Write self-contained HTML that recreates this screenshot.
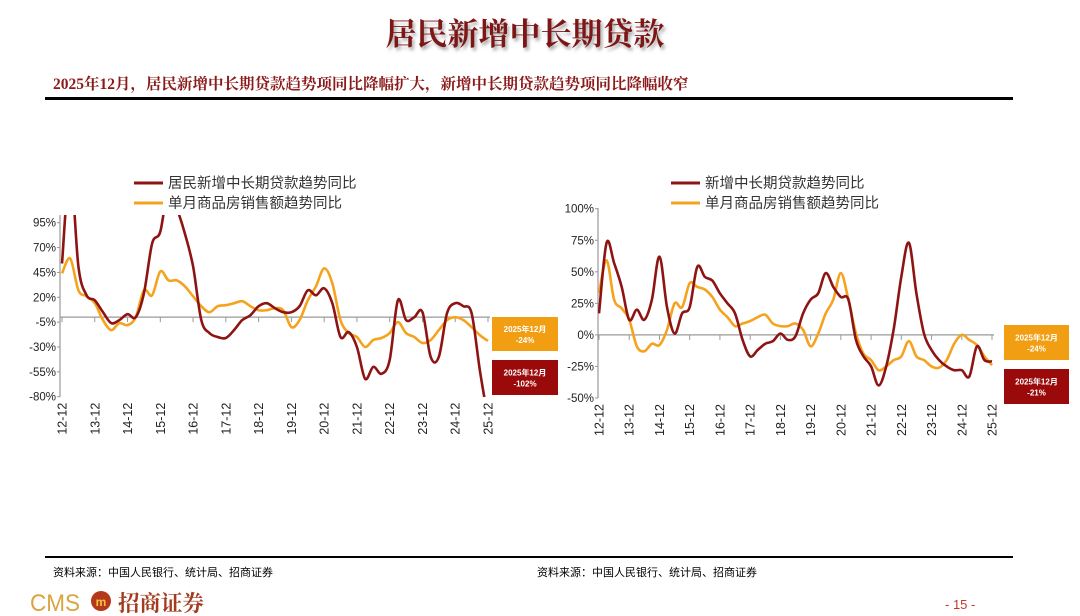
<!DOCTYPE html>
<html><head><meta charset="utf-8">
<style>
body{margin:0;background:#fff;width:1080px;height:616px;overflow:hidden;font-family:"Liberation Sans","Noto Sans CJK SC",sans-serif;}
svg{position:absolute;left:0;top:0}
</style></head>
<body>
<svg id="s" width="1080" height="616" xmlns="http://www.w3.org/2000/svg">
<defs>
<filter id="sh" x="-5%" y="-20%" width="115%" height="150%"><feDropShadow dx="2" dy="3" stdDeviation="1.5" flood-color="#888" flood-opacity="0.7"/></filter>
<clipPath id="cl"><rect x="60" y="215" width="430" height="182"/></clipPath>
<clipPath id="cr"><rect x="598" y="205" width="396" height="194"/></clipPath>
</defs>
<text x="525" y="45" text-anchor="middle" font-family="'Liberation Serif','Noto Serif CJK SC',serif" font-size="31" font-weight="bold" fill="#7E1414" filter="url(#sh)">居民新增中长期贷款</text>
<text x="53" y="89" font-family="'Liberation Serif','Noto Serif CJK SC',serif" font-size="15.5" font-weight="bold" fill="#8B1A1A">2025年12月，居民新增中长期贷款趋势项同比降幅扩大，新增中长期贷款趋势项同比降幅收窄</text>
<rect x="45" y="97" width="968" height="3" fill="#000"/>
<rect x="45" y="556" width="968" height="2" fill="#000"/>
<text x="53" y="576" font-size="11" fill="#000">资料来源：中国人民银行、统计局、招商证券</text>
<text x="537" y="576" font-size="11" fill="#000">资料来源：中国人民银行、统计局、招商证券</text>
<g>
<text x="30" y="611" font-size="24" fill="#D9A441" font-family="'Liberation Sans Narrow','Liberation Sans',sans-serif" textLength="50" lengthAdjust="spacingAndGlyphs">CMS</text>
<circle cx="101" cy="601" r="10" fill="#B5381B"/>
<text x="101" y="606" font-size="12" fill="#F5C542" text-anchor="middle" font-weight="bold">m</text>
<text x="118" y="611" font-size="22" fill="#A33B1E" font-family="'Liberation Serif','Noto Serif CJK SC',serif" font-weight="bold" textLength="86" lengthAdjust="spacingAndGlyphs">招商证券</text>
</g>
<text x="945" y="609" font-size="13" fill="#C0392B">- 15 -</text>
<g id="left"></g><g id="right"></g>
</svg>
<script>
// Left chart data (quarterly, 2012-12 .. 2025-12)
const years=["12-12","13-12","14-12","15-12","16-12","17-12","18-12","19-12","20-12","21-12","22-12","23-12","24-12","25-12"];
const leftTicks=[95,70,45,20,-5,-30,-55,-80];
const leftLoan=[54,150,51,22,17,5,-6,-3,3,0,24,74,86,130,110,84,51,-3,-16,-20,-21,-13,-3,2,11,14,9,5,5,11,27,22,29,14,-20,-15,-30,-62,-50,-57,-43,17,-3,0,5,-40,-40,4,14,11,4,-53,-102];
const leftSales=[44,59,27,21,14,-3,-13,-6,-8,0,27,22,46,37,37,31,21,11,5,11,12,14,16,11,7,7,9,7,-10,-3,17,31,49,34,-3,-16,-20,-30,-23,-21,-16,-5,-16,-20,-26,-23,-13,-3,0,-3,-10,-18,-24];
const rightTicks=[100,75,50,25,0,-25,-50];
const rightLoan=[17,73,57,38,12,20,12,28,62,22,1,17,22,54,46,43,33,25,17,-4,-17,-12,-7,-5,1,-4,-1,17,28,33,49,38,30,28,-4,-17,-25,-40,-25,5,46,73,33,1,-12,-20,-25,-28,-28,-33,-9,-20,-21];
const rightSales=[33,59,28,21,12,-9,-13,-7,-8,4,25,22,41,38,36,30,20,14,7,9,11,14,16,9,7,7,9,4,-9,1,17,28,49,28,1,-15,-20,-28,-25,-20,-17,-5,-17,-20,-25,-26,-20,-7,0,-4,-8,-17,-24];

const NS="http://www.w3.org/2000/svg";
function mk(p,tag,at){const e=document.createElementNS(NS,tag);for(const k in at)e.setAttribute(k,at[k]);p.appendChild(e);return e;}
function smooth(pts){let d="M"+pts[0][0].toFixed(1)+","+pts[0][1].toFixed(1);
 for(let i=0;i<pts.length-1;i++){const p0=pts[i-1]||pts[i],p1=pts[i],p2=pts[i+1],p3=pts[i+2]||p2;
  const c1=[p1[0]+(p2[0]-p0[0])/6,p1[1]+(p2[1]-p0[1])/6],c2=[p2[0]-(p3[0]-p1[0])/6,p2[1]-(p3[1]-p1[1])/6];
  d+="C"+c1.map(v=>v.toFixed(1))+" "+c2.map(v=>v.toFixed(1))+" "+p2[0].toFixed(1)+","+p2[1].toFixed(1);}
 return d;}
function chart(g,cfg){
 const xs=i=>cfg.x0+i*(cfg.x1-cfg.x0)/(cfg.n-1);
 const ys=v=>cfg.yTop+(cfg.vMax-v)*(cfg.yBot-cfg.yTop)/(cfg.vMax-cfg.vMin);
 const ax=mk(g,"line",{x1:cfg.ax,y1:cfg.yAxTop,x2:cfg.ax,y2:ys(cfg.vMin),stroke:"#999","stroke-width":1.2});
 
 
 cfg.ticks.forEach(t=>{
  const tl=mk(g,"text",{x:cfg.ax-4,y:ys(t)+4,"text-anchor":"end","font-size":11.5,fill:"#222"});tl.textContent=t+"%";
  
  
  mk(g,"line",{x1:cfg.ax-3,y1:ys(t),x2:cfg.ax,y2:ys(t),stroke:"#999"});
 });
 const z=mk(g,"line",{x1:cfg.ax,y1:ys(0),x2:cfg.x1+2,y2:ys(0),stroke:"#999","stroke-width":1.2});
 
 
 years.forEach((y,k)=>{const x=xs(k*4);
  mk(g,"line",{x1:x,y1:ys(0),x2:x,y2:ys(0)+5,stroke:"#999"});
  const t=mk(g,"text",{transform:`translate(${x+4.5},${cfg.yBot+6}) rotate(-90)`,"text-anchor":"end","font-size":12.5,fill:"#222"});t.textContent=y;
  
  
 });
 const cg=mk(g,"g",{"clip-path":`url(#${cfg.clip})`});
 [[cfg.sales,"#F5A31E","sales-line"],[cfg.loan,"#8E1414","loan-line"]].forEach(([arr,c,nm])=>{
  const p=mk(cg,"path",{d:smooth(arr.map((v,i)=>[xs(i),ys(v)])),fill:"none",stroke:c,"stroke-width":2.6,"stroke-linejoin":"round"});
  
  
 });
 [[cfg.leg1,"#8E1414",183],[cfg.leg2,"#F5A31E",203]].forEach(([txt,c,y])=>{
  const lg=mk(g,"g",{});
  
  
  mk(lg,"line",{x1:cfg.lx,y1:y,x2:cfg.lx+29,y2:y,stroke:c,"stroke-width":3});
  const t=mk(lg,"text",{x:cfg.lx+34,y:y+5,"font-size":14.5,fill:"#333"});t.textContent=txt;
 });
 [[cfg.box1,"#F29E12",cfg.sales[cfg.n-1]],[cfg.box2,"#9B0A0A",cfg.lbl2]].forEach(([b,c,v])=>{
  const bg=mk(g,"g",{});
  
  
  mk(bg,"rect",{x:b[0],y:b[1],width:b[2],height:b[3],fill:c});
  const cx=b[0]+b[2]/2;
  const t1=mk(bg,"text",{x:cx,y:b[1]+b[3]/2-2,"text-anchor":"middle","font-size":8,"font-weight":"bold",fill:"#fff"});t1.textContent="2025年12月";
  const t2=mk(bg,"text",{x:cx,y:b[1]+b[3]/2+9,"text-anchor":"middle","font-size":8,"font-weight":"bold",fill:"#fff"});t2.textContent=v+"%";
 });
}
chart(document.getElementById("left"),{n:leftLoan.length,x0:62,x1:488,ax:60,yTop:222.7,yBot:396.7,vMax:95,vMin:-80,yAxTop:215,ticks:leftTicks,loan:leftLoan,sales:leftSales,clip:"cl",leg1:"居民新增中长期贷款趋势同比",leg2:"单月商品房销售额趋势同比",lx:134,box1:[492,317,66,34],box2:[492,360,66,35],lbl2:leftLoan[leftLoan.length-1]});
chart(document.getElementById("right"),{n:rightLoan.length,x0:599,x1:992,ax:598,yTop:208.7,yBot:398,vMax:100,vMin:-50,yAxTop:208,ticks:rightTicks,loan:rightLoan,sales:rightSales,clip:"cr",leg1:"新增中长期贷款趋势同比",leg2:"单月商品房销售额趋势同比",lx:671,box1:[1004,325,65,35],box2:[1004,369,65,35],lbl2:rightLoan[rightLoan.length-1]});
</script>
</body></html>
